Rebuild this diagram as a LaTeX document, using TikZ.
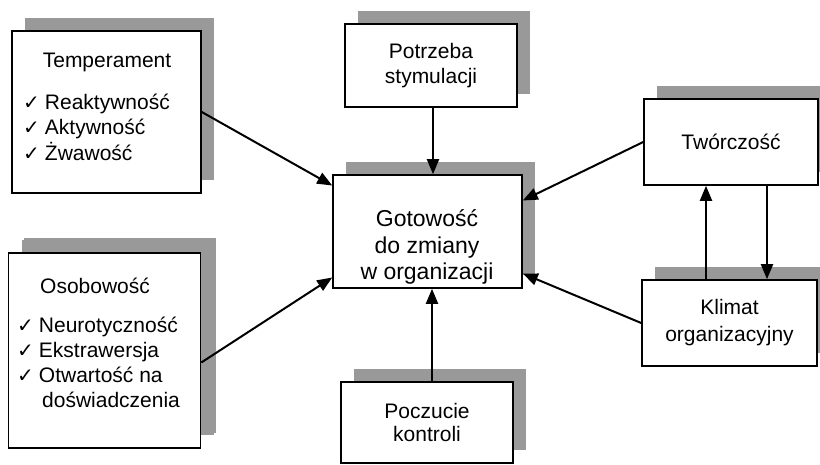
\documentclass[tikz,border=0pt]{standalone}
\usepackage{fontspec}
\setmainfont{Liberation Sans}
\newfontfamily\dejavu{DejaVu Sans}
\usetikzlibrary{shadows,calc,arrows.meta}
\newcommand{\chk}{{\dejavu\fontsize{20}{20}\selectfont ✓}\hspace{5pt}}
\begin{document}
\begin{tikzpicture}[x=1pt,y=-1pt,
 box/.style={draw, line width=1.6pt, fill=white, inner sep=0pt, align=center,
   font=\fontsize{21}{25}\selectfont,
   drop shadow={shadow xshift=13pt, shadow yshift=13pt, fill=black!40, opacity=1}},
 arr/.style={line width=2pt, -{Triangle[length=15pt,width=12pt]}},
 txt/.style={inner sep=0pt, font=\fontsize{21}{26}\selectfont, align=left}]
\useasboundingbox (0,0) rectangle (820,464);

% boxes
\node[box, minimum width=189pt, minimum height=162pt] (temp) at (106.5,112) {};
\node[box, minimum width=192pt, minimum height=195pt,
  drop shadow={shadow xshift=15pt, shadow yshift=15pt, fill=black!40, opacity=1}] (osob) at (104.5,350.5) {};
\node[box, minimum width=172pt, minimum height=83pt] (pot) at (431,65.5) {Potrzeba\\stymulacji};
\node[box, minimum width=189pt, minimum height=113pt] (ctr) at (427.5,231.5) {};
\node[box, minimum width=172pt, minimum height=81pt, font=\fontsize{21}{23.5}\selectfont] (pocz) at (427,422.5) {Poczucie\\kontroli};
\node[box, minimum width=174pt, minimum height=86pt] (tw) at (731,142) {Twórczość};
\node[box, minimum width=175pt, minimum height=86pt, font=\fontsize{21}{27}\selectfont] (klim) at (729.5,323) {Klimat\\organizacyjny};

% texts
\node[txt, align=center] (ttemp) at (107,62) {Temperament};
\node[txt, anchor=west, font=\fontsize{21}{25.5}\selectfont] (ltemp) at (23,127) {\chk Reaktywność\\\chk Aktywność\\\chk Żwawość};
\node[txt, anchor=west] (tosob) at (40,286) {Osobowość};
\node[txt, anchor=west, font=\fontsize{21}{25}\selectfont] (losob) at (17,362.5) {\chk Neurotyczność\\\chk Ekstrawersja\\\chk Otwartość na\\\hspace*{25pt}doświadczenia};
\node[txt, align=center, font=\fontsize{23}{26.5}\selectfont] (tctr) at (427,247) {Gotowość\\do zmiany\\w organizacji};

% connectors
\draw[arr] (temp.east) -- ($(ctr.west)+(0,-46)$);
\draw[arr] ($(osob.east)+(0,12)$) -- ($(ctr.west)+(0,46)$);
\draw[arr] ($(pot.south)+(2,0)$) -- ($(ctr.north)+(5.5,0)$);
\draw[arr] ($(pocz.north)+(5,0)$) -- ($(ctr.south)+(4.5,0)$);
\draw[arr] (tw.west) -- ($(ctr.east)+(0,-31)$);
\draw[arr] (klim.west) -- ($(ctr.east)+(0,42)$);
\coordinate (kup) at ($(klim.north)+(-23.5,0)$);
\coordinate (tdn) at ($(tw.south)+(36,0)$);
\draw[arr] (kup) -- (kup |- tw.south);
\draw[arr] (tdn) -- (tdn |- klim.north);
\end{tikzpicture}
\end{document}
